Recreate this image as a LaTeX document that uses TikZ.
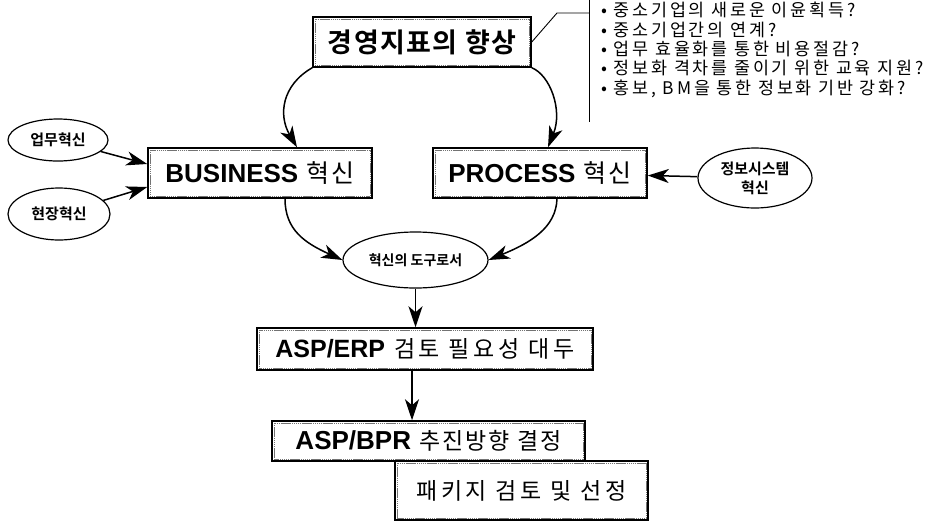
\documentclass[tikz,border=0pt]{standalone}
\usepackage{fontspec}
\newfontfamily\kr{Noto Sans CJK KR}[BoldFont={Noto Sans CJK KR Bold}]
\newfontfamily\krw{Noto Sans CJK KR}[LetterSpace=9]
\newfontfamily\krl{Noto Sans CJK KR}[LetterSpace=16]
\newfontfamily\krb{Noto Sans CJK KR Bold}[LetterSpace=5]
\newfontfamily\arb{Liberation Sans}
\usetikzlibrary{arrows.meta,shapes.geometric}
\tikzset{
  boxnode/.style={draw=black, line width=1.5pt, fill=white, inner sep=0pt, align=center},
  ovalnode/.style={ellipse, draw=black, line width=1.2pt, fill=white, inner sep=0pt, align=center, font=\kr\bfseries\fontsize{15}{17}\selectfont},
  conn/.style={line width=1.5pt, -{Stealth[length=21pt,width=14pt,inset=6pt]}},
  plainline/.style={line width=0.9pt},
  innerframe/.style={draw=black!55, line width=0.7pt, dash pattern=on 1.5pt off 0.6pt}
}
\newcommand{\frameit}[1]{\draw[innerframe] ([shift={(2.6pt,-2.6pt)}]#1.north west) rectangle ([shift={(-2.6pt,2.6pt)}]#1.south east);}
\begin{document}
\begin{tikzpicture}[x=1pt,y=-1pt]
\useasboundingbox (0,0) rectangle (944,523);
% boxes
\node[boxnode, minimum width=218pt, minimum height=50pt, font=\krb\fontsize{27}{30}\selectfont] (goal) at (422,42) {경영지표의 향상};
\node[boxnode, minimum width=224pt, minimum height=50pt] (bus) at (260,173) {{\arb\bfseries\fontsize{26}{30}\selectfont BUSINESS}\hspace{8pt}{\krw\fontsize{25}{30}\selectfont 혁신}};
\node[boxnode, minimum width=214pt, minimum height=50pt] (proc) at (540,173) {{\arb\bfseries\fontsize{26}{30}\selectfont PROCESS}\hspace{8pt}{\krw\fontsize{25}{30}\selectfont 혁신}};
\node[boxnode, minimum width=336pt, minimum height=42pt] (erp) at (425,349) {{\arb\bfseries\fontsize{25}{29}\selectfont ASP/ERP}\hspace{9pt}{\krl\fontsize{23}{29}\selectfont 검토 필요성 대두}};
\node[boxnode, minimum width=253pt, minimum height=59pt, font=\krl\fontsize{23}{26}\selectfont] (pkg) at (521.5,490.5) {\raisebox{-4pt}{패키지 검토 및 선정}};
\frameit{pkg}
\node[boxnode, minimum width=313pt, minimum height=40pt] (bpr) at (428.5,441) {{\arb\bfseries\fontsize{26}{29}\selectfont ASP/BPR}\hspace{8pt}{\krw\fontsize{23}{29}\selectfont 추진방향 결정}};
\frameit{goal}\frameit{bus}\frameit{proc}\frameit{erp}\frameit{bpr}
% ellipses
\node[ovalnode, minimum width=100pt, minimum height=42pt] (work) at (58,140) {업무혁신};
\node[ovalnode, minimum width=102pt, minimum height=52pt] (site) at (59,214) {현장혁신};
\node[ovalnode, minimum width=114pt, minimum height=60pt, font=\kr\bfseries\fontsize{15}{19}\selectfont] (info) at (755,178) {정보시스템\\혁신};
\node[ovalnode, minimum width=145pt, minimum height=56pt, font=\kr\bfseries\fontsize{14}{16}\selectfont] (tool) at (415.5,260) {혁신의 도구로서};
% bullet list and bracket
\coordinate (b1) at (557,13);
\coordinate (b2) at (589,13);
\coordinate (vt) at (589,0);
\coordinate (vb) at (589,122);
\draw[plainline] (goal.east) -- (b1) -- (b2);
\draw[plainline] (vt) -- (vb);
\node[anchor=north west, inner sep=0pt, align=left, font=\krl\fontsize{17.4}{19.4}\selectfont] (list) at (601,2)
 {• 중소기업의 새로운 이윤획득?\\
  • 중소기업간의 연계?\\
  • 업무 효율화를 통한 비용절감?\\
  • 정보화 격차를 줄이기 위한 교육 지원?\\
  • 홍보, BM을 통한 정보화 기반 강화?};
% connectors
\draw[conn] (goal.south west) .. controls (282,85) and (278,115) .. (bus.north -| 297,0);
\draw[conn] (goal.south east) .. controls (550,75) and (563,110) .. (proc.north -| 548,0);
\draw[conn] (work) -- (bus.west |- 0,164);
\draw[conn] (site) -- (bus.west |- 0,187);
\draw[conn] (info) -- (proc);
\draw[conn] (bus.south -| 285,0) .. controls (285,230) and (305,243) .. (tool.west);
\draw[conn] (proc.south -| 557,0) .. controls (556,228) and (530,243) .. (tool.east);
\draw[conn] (tool.south) -- (tool.south |- erp.north);
\draw[conn] (erp.south -| 412,0) -- (bpr.north -| 412,0);
\end{tikzpicture}
\end{document}
